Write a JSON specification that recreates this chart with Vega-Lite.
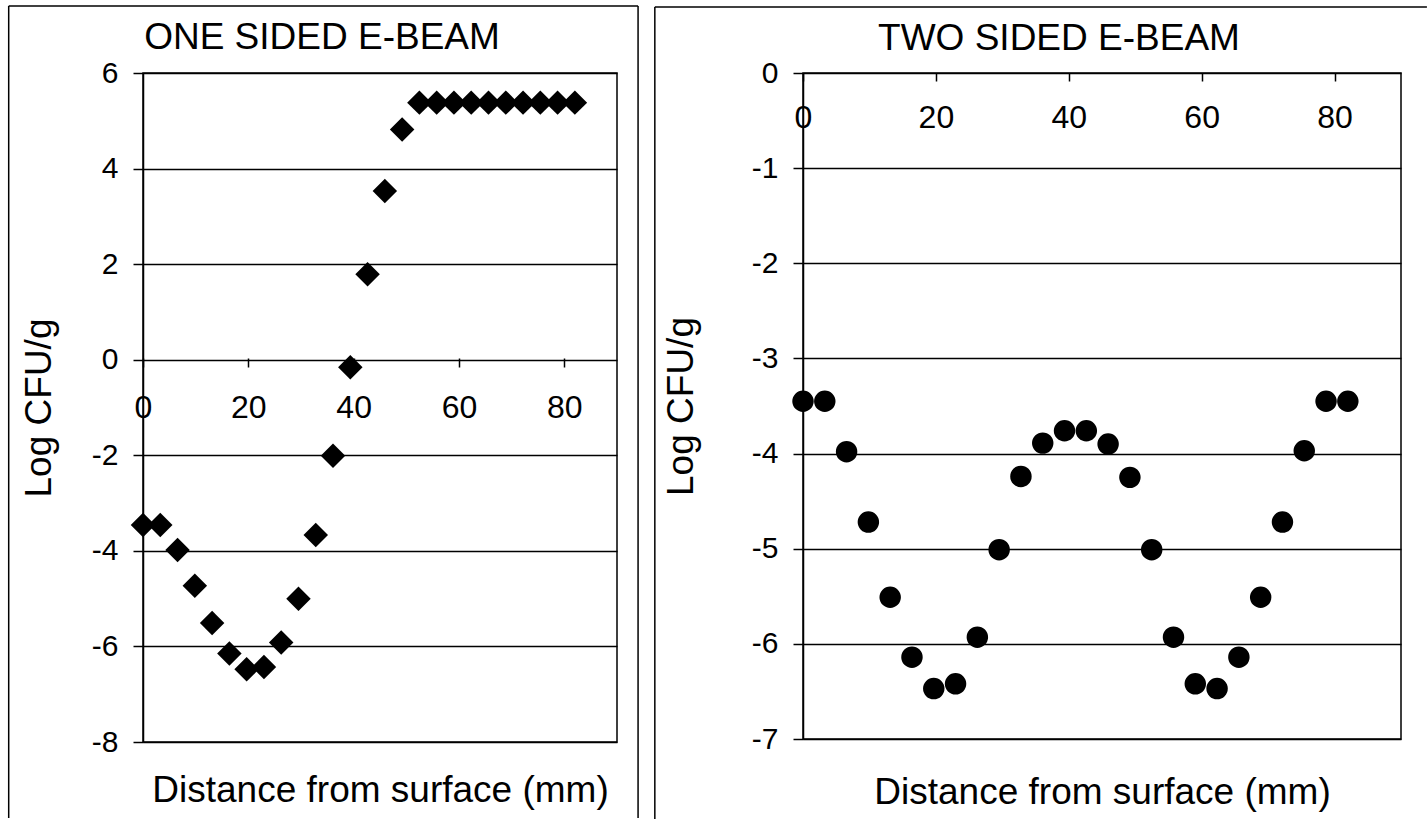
{
  "$schema": "https://vega.github.io/schema/vega-lite/v6.json",
  "padding": {"left": 7, "top": 4, "right": 0, "bottom": 0},
  "spacing": 13,
  "background": "white",
  "config": {
    "view": {"stroke": "black", "strokeWidth": 1.5},
    "font": "Liberation Sans",
    "axis": {
      "domainColor": "black", "tickColor": "black", "gridColor": "black",
      "labelColor": "black", "titleColor": "black",
      "labelFont": "Liberation Sans", "titleFont": "Liberation Sans",
      "labelFontSize": 30, "titleFontSize": 37, "titleFontWeight": "normal",
      "domainWidth": 1.5, "tickWidth": 1.5, "gridWidth": 1.5,
      "labelFlush": false, "labelOverlap": false
    },
    "title": {"font": "Liberation Sans", "fontSize": 37, "fontWeight": "normal", "color": "black"}
  },
  "datasets": {
    "one": [
      {"x": 0, "y": -3.46}, {"x": 3.28, "y": -3.46}, {"x": 6.56, "y": -3.98}, {"x": 9.84, "y": -4.73},
      {"x": 13.12, "y": -5.51}, {"x": 16.4, "y": -6.15}, {"x": 19.68, "y": -6.48}, {"x": 22.96, "y": -6.43},
      {"x": 26.24, "y": -5.92}, {"x": 29.52, "y": -5.0}, {"x": 32.8, "y": -3.67}, {"x": 36.08, "y": -2.01},
      {"x": 39.36, "y": -0.16}, {"x": 42.64, "y": 1.79}, {"x": 45.92, "y": 3.53}, {"x": 49.2, "y": 4.82},
      {"x": 52.48, "y": 5.38}, {"x": 55.76, "y": 5.38}, {"x": 59.04, "y": 5.38}, {"x": 62.32, "y": 5.38},
      {"x": 65.6, "y": 5.38}, {"x": 68.88, "y": 5.38}, {"x": 72.16, "y": 5.38}, {"x": 75.44, "y": 5.38},
      {"x": 78.72, "y": 5.38}, {"x": 82, "y": 5.38}
    ],
    "two": [
      {"x": 0, "y": -3.45}, {"x": 3.28, "y": -3.45}, {"x": 6.56, "y": -3.98}, {"x": 9.84, "y": -4.72},
      {"x": 13.12, "y": -5.51}, {"x": 16.4, "y": -6.14}, {"x": 19.68, "y": -6.47}, {"x": 22.96, "y": -6.42},
      {"x": 26.24, "y": -5.93}, {"x": 29.52, "y": -5.01}, {"x": 32.8, "y": -4.24}, {"x": 36.08, "y": -3.89},
      {"x": 39.36, "y": -3.76}, {"x": 42.64, "y": -3.76}, {"x": 45.92, "y": -3.9}, {"x": 49.2, "y": -4.25},
      {"x": 52.48, "y": -5.01}, {"x": 55.76, "y": -5.93}, {"x": 59.04, "y": -6.42}, {"x": 62.32, "y": -6.47},
      {"x": 65.6, "y": -6.14}, {"x": 68.88, "y": -5.51}, {"x": 72.16, "y": -4.72}, {"x": 75.44, "y": -3.97},
      {"x": 78.72, "y": -3.45}, {"x": 82, "y": -3.45}
    ],
    "frame": [{}]
  },
  "hconcat": [
    {
      "width": 474,
      "height": 669,
      "title": {"text": "ONE SIDED E-BEAM", "anchor": "middle", "frame": "group", "dx": -58, "baseline": "alphabetic", "offset": -81},
      "layer": [
        {
          "data": {"name": "one"},
          "mark": {"type": "point", "shape": "diamond", "filled": true, "color": "black", "opacity": 1, "size": 600},
          "encoding": {
            "x": {
              "field": "x", "type": "quantitative",
              "scale": {"domain": [0, 90], "nice": false, "zero": false},
              "axis": {
                "title": "Distance from surface (mm)", "orient": "bottom", "offset": -384,
                "values": [0, 20, 40, 60, 80], "domain": false, "grid": false,
                "tickSize": 9, "labelPadding": 25, "labelFontSize": 32, "labelExpr": "'' + datum.value",
                "titleY": 443, "titleBaseline": "alphabetic"
              }
            },
            "y": {
              "field": "y", "type": "quantitative",
              "scale": {"domain": [-8, 6], "nice": false, "zero": false},
              "axis": {
                "title": "Log CFU/g", "values": [-8, -6, -4, -2, 0, 2, 4, 6], "grid": true,
                "tickSize": 10, "labelPadding": 15, "labelExpr": "'' + datum.value",
                "titleX": -122, "titleY": 334.5, "titleBaseline": "top", "titleAngle": 270
              }
            }
          }
        },
        {
          "data": {"name": "frame"},
          "mark": {"type": "rule", "stroke": "black", "strokeWidth": 1.5},
          "encoding": {
            "x": {"datum": -25.5, "type": "quantitative"},
            "y": {"datum": 7.4, "type": "quantitative"},
            "y2": {"datum": -9.59}
          }
        },
        {
          "data": {"name": "frame"},
          "mark": {"type": "rule", "stroke": "black", "strokeWidth": 1.5},
          "encoding": {
            "x": {"datum": 94.0, "type": "quantitative"},
            "y": {"datum": 7.4, "type": "quantitative"},
            "y2": {"datum": -9.59}
          }
        },
        {
          "data": {"name": "frame"},
          "mark": {"type": "rule", "stroke": "black", "strokeWidth": 1.5},
          "encoding": {
            "x": {"datum": -25.5, "type": "quantitative"},
            "x2": {"datum": 94.0},
            "y": {"datum": 7.4, "type": "quantitative"}
          }
        }
      ]
    },
    {
      "width": 598,
      "height": 666,
      "title": {"text": "TWO SIDED E-BEAM", "anchor": "middle", "frame": "group", "dx": -43, "baseline": "alphabetic", "offset": -81},
      "layer": [
        {
          "data": {"name": "two"},
          "mark": {"type": "point", "shape": "circle", "filled": true, "color": "black", "opacity": 1, "size": 460},
          "encoding": {
            "x": {
              "field": "x", "type": "quantitative",
              "scale": {"domain": [0, 90], "nice": false, "zero": false},
              "axis": {
                "title": "Distance from surface (mm)", "orient": "bottom", "offset": -666,
                "values": [0, 20, 40, 60, 80], "domain": false, "grid": false,
                "tickSize": 8, "labelPadding": 21, "labelFontSize": 32, "labelExpr": "'' + datum.value",
                "titleY": 730, "titleBaseline": "alphabetic"
              }
            },
            "y": {
              "field": "y", "type": "quantitative",
              "scale": {"domain": [-7, 0], "nice": false, "zero": false},
              "axis": {
                "title": "Log CFU/g", "values": [-7, -6, -5, -4, -3, -2, -1, 0], "grid": true,
                "tickSize": 10, "labelPadding": 15, "labelExpr": "'' + datum.value",
                "titleX": -140, "titleY": 333, "titleBaseline": "top", "titleAngle": 270
              }
            }
          }
        },
        {
          "data": {"name": "frame"},
          "mark": {"type": "rule", "stroke": "black", "strokeWidth": 1.5},
          "encoding": {
            "x": {"datum": -22.3, "type": "quantitative"},
            "y": {"datum": 0.694, "type": "quantitative"},
            "y2": {"datum": -7.84}
          }
        },
        {
          "data": {"name": "frame"},
          "mark": {"type": "rule", "stroke": "black", "strokeWidth": 1.5},
          "encoding": {
            "x": {"datum": -22.3, "type": "quantitative"},
            "x2": {"datum": 93.9},
            "y": {"datum": 0.694, "type": "quantitative"}
          }
        }
      ]
    }
  ]
}
